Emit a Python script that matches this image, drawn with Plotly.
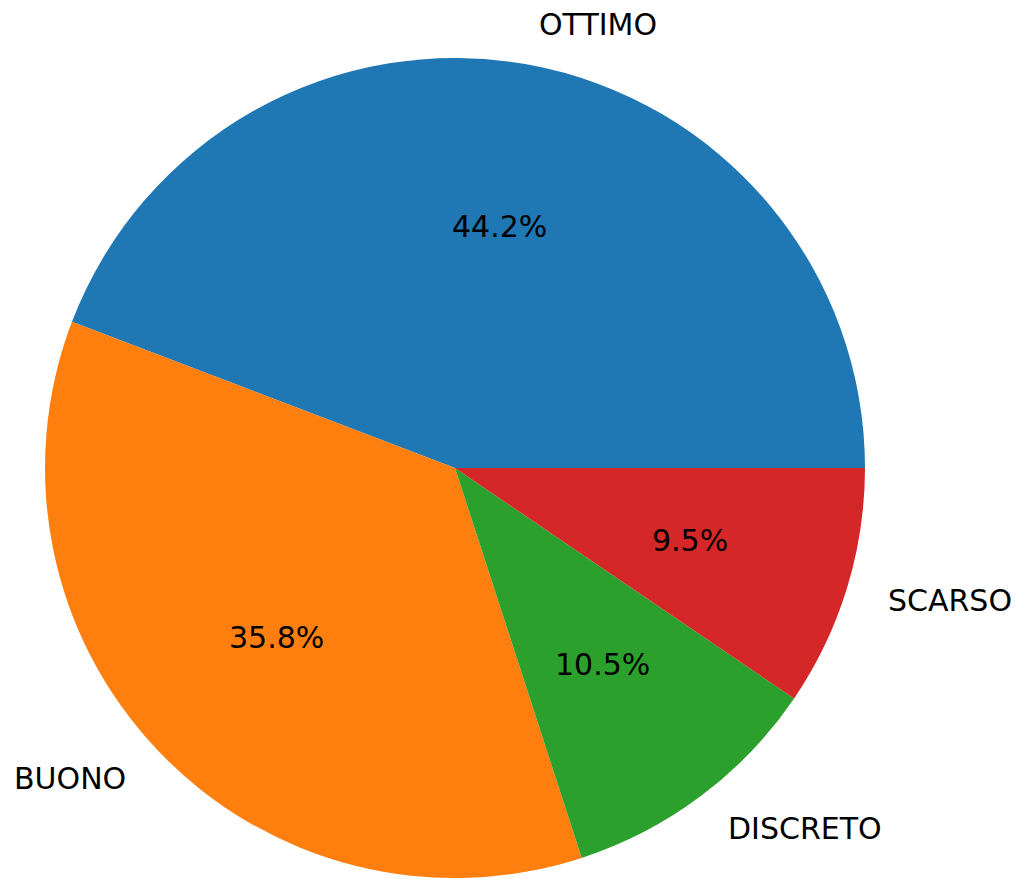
import math
import plotly.graph_objects as go

labels = ["OTTIMO", "BUONO", "DISCRETO", "SCARSO"]
values = [44.2, 35.8, 10.5, 9.5]
colors = ["#1f77b4", "#ff7f0e", "#2ca02c", "#d62728"]

W, H = 1020, 880
cx_px, cy_px, r_px = 455, 468, 410

total = sum(values)
# matplotlib-style: first wedge starts at 3 o'clock, going counterclockwise.
# plotly (counterclockwise) places the first slice clockwise from `rotation`.
rotation = 90 - 360 * values[0] / total

fig = go.Figure()
fig.add_trace(go.Pie(
    labels=labels, values=values, sort=False,
    direction="counterclockwise", rotation=rotation,
    marker=dict(colors=colors, line=dict(width=0)),
    textinfo="none", hoverinfo="label+percent",
    showlegend=False,
    domain=dict(x=[(cx_px - r_px) / W, (cx_px + r_px) / W],
                y=[1 - (cy_px + r_px) / H, 1 - (cy_px - r_px) / H]),
))

font = dict(family="DejaVu Sans", size=30, color="black")
cum = 0.0
annotations = []
for lab, v in zip(labels, values):
    mid = (cum + v / 2) / total * 2 * math.pi
    cum += v
    c, s = math.cos(mid), math.sin(mid)
    px = cx_px + 0.6 * r_px * c
    py = cy_px - 0.6 * r_px * s
    annotations.append(dict(x=px / W, y=1 - py / H, xref="paper", yref="paper",
                            text=f"{v / total * 100:.1f}%", showarrow=False,
                            xanchor="center", yanchor="middle", font=font))
    lx = cx_px + 1.1 * r_px * c
    ly = cy_px - 1.1 * r_px * s
    annotations.append(dict(x=lx / W, y=1 - ly / H, xref="paper", yref="paper",
                            text=lab, showarrow=False,
                            xanchor="left" if c > 0 else "right", yanchor="middle",
                            font=font))

fig.update_layout(
    width=W, height=H, margin=dict(l=0, r=0, t=0, b=0),
    paper_bgcolor="white", plot_bgcolor="white",
    annotations=annotations,
)
fig.write_html("out.html", config={"displayModeBar": False},
               post_script="document.body.style.margin='0';document.body.style.overflow='hidden';")
